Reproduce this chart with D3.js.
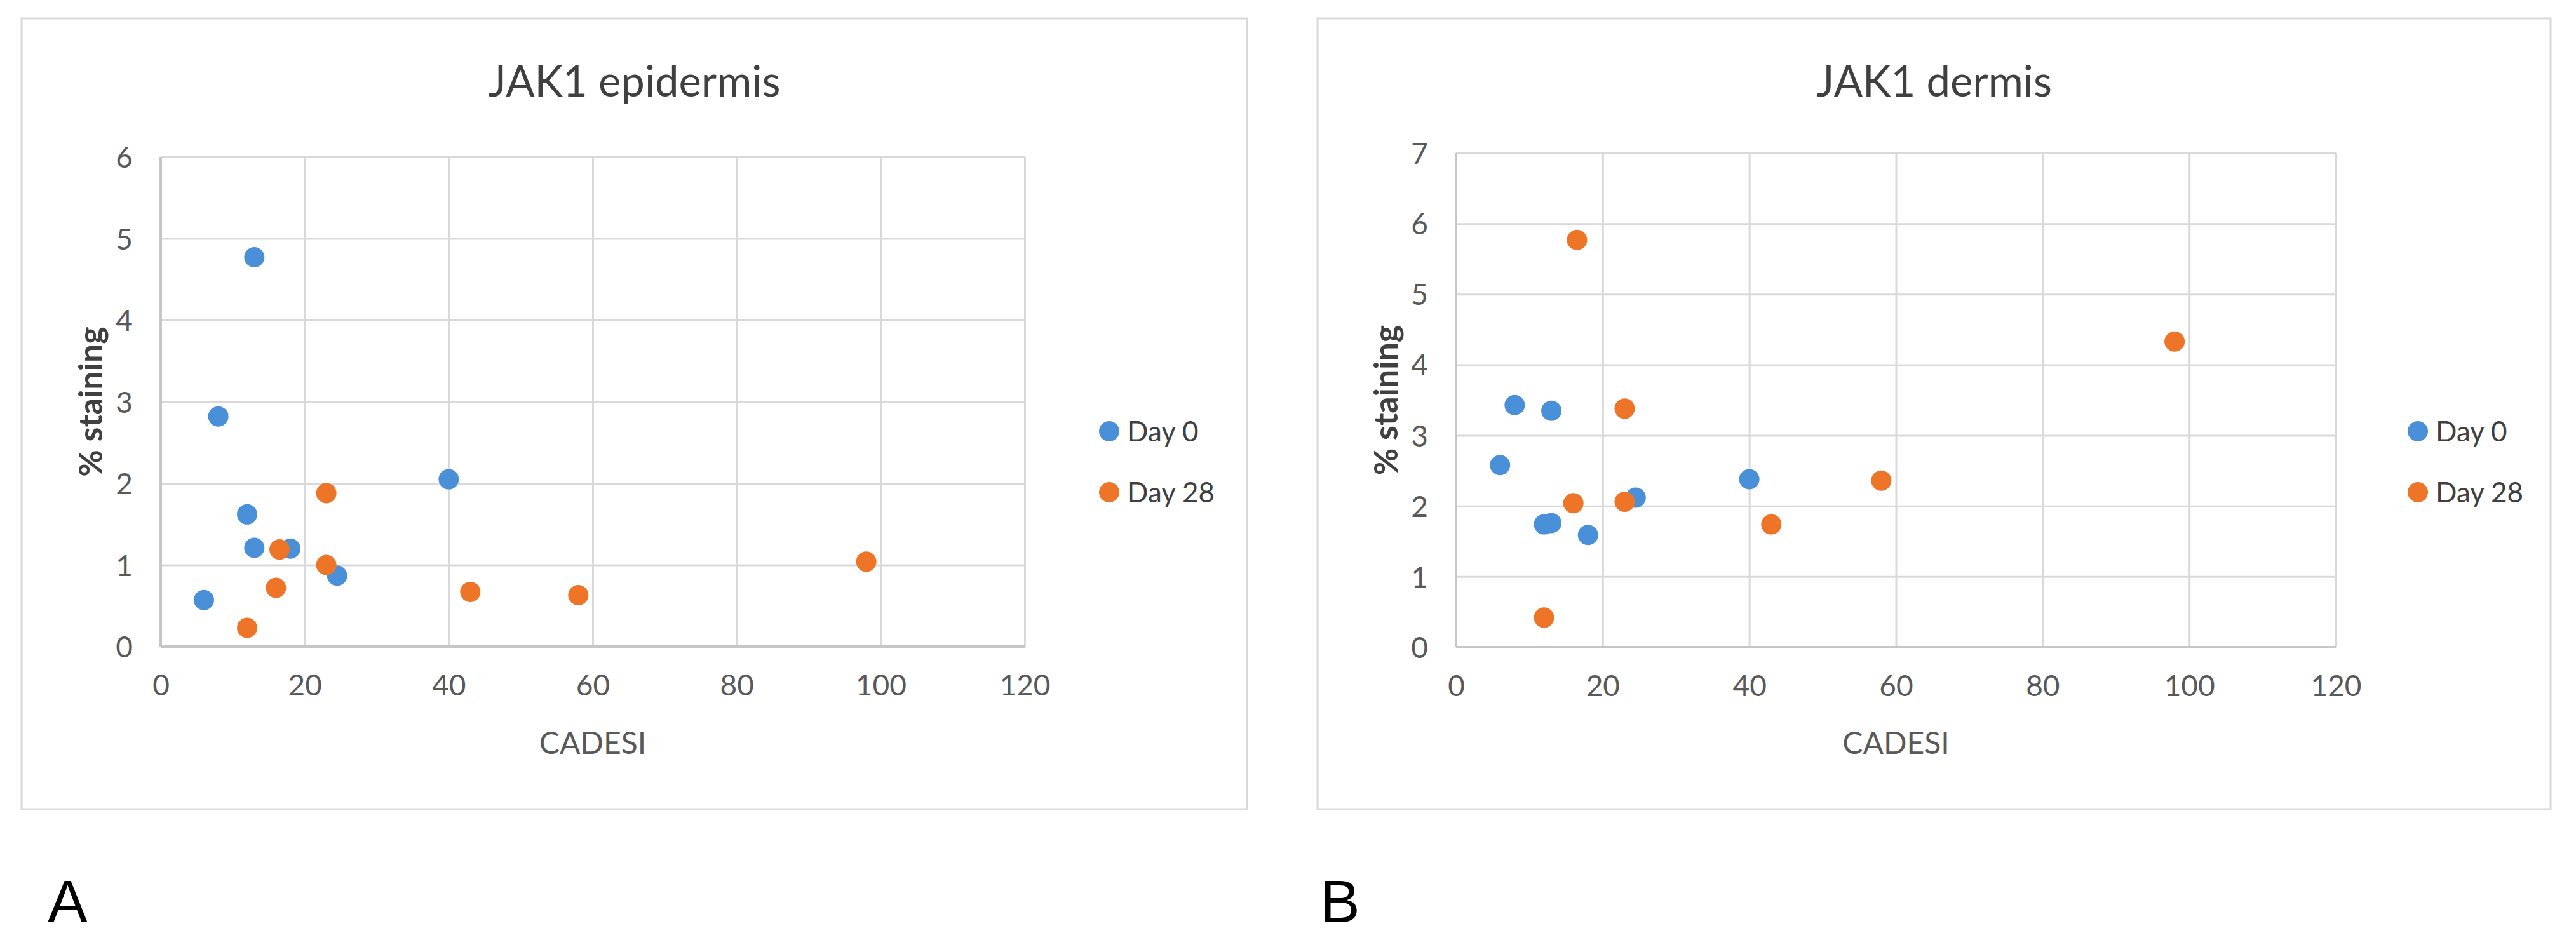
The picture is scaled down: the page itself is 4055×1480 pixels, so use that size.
<!DOCTYPE html>
<html>
<head>
<meta charset="utf-8">
<script src="https://cdn.jsdelivr.net/npm/d3@7/dist/d3.min.js"></script>
<style>
  html, body { margin: 0; padding: 0; background: #ffffff; }
  svg { display: block; }
  text { font-family: Lato, "Open Sans", "Liberation Sans", sans-serif; }
</style>
</head>
<body>
<svg id="chart" width="4055" height="1480"></svg>
<script>
// ---------------- data ----------------
const seriesNames = ["Day 0", "Day 28"];
const xTicks = [0, 20, 40, 60, 80, 100, 120];
const yTicksEpidermis = [0, 1, 2, 3, 4, 5, 6];
const yTicksDermis = [0, 1, 2, 3, 4, 5, 6, 7];

// CADESI scores
const cadesiDay0  = [13, 8, 40, 12, 13, 18, 24.5, 6];
const cadesiDay28 = [23, 16.5, 23, 16, 12, 43, 58, 98];

// % staining, JAK1 epidermis
const epidermisDay0  = [4.77, 2.82, 2.05, 1.62, 1.21, 1.20, 0.87, 0.57];
const epidermisDay28 = [1.88, 1.19, 1.00, 0.72, 0.23, 0.67, 0.63, 1.04];

// % staining, JAK1 dermis
const dermisDay0  = [1.76, 3.43, 2.38, 1.74, 3.35, 1.59, 2.12, 2.58];
const dermisDay28 = [3.38, 5.77, 2.06, 2.04, 0.42, 1.74, 2.36, 4.33];

const colors = ["#4a90d9", "#ee7428"];

// ---------------- layout ----------------
const svg = d3.select("#chart");

const panels = [
  { title: "JAK1 epidermis", label: "A",
    box: [34, 29, 1963, 1274],
    plot: { left: 253, right: 1613, top: 247, bottom: 1018 },
    yMax: 6, yTicks: yTicksEpidermis,
    ys: [epidermisDay0, epidermisDay28],
    legendX: 1746, labelX: 75 },
  { title: "JAK1 dermis", label: "B",
    box: [2074, 29, 4015, 1274],
    plot: { left: 2292, right: 3677, top: 241, bottom: 1019 },
    yMax: 7, yTicks: yTicksDermis,
    ys: [dermisDay0, dermisDay28],
    legendX: 3806, labelX: 2078 }
];

const xs = [cadesiDay0, cadesiDay28];

panels.forEach(p => {
  const g = svg.append("g");
  const [bx0, by0, bx1, by1] = p.box;

  // chart area border
  g.append("rect")
    .attr("x", bx0).attr("y", by0)
    .attr("width", bx1 - bx0).attr("height", by1 - by0)
    .attr("fill", "#ffffff").attr("stroke", "#d9d9d9").attr("stroke-width", 3);

  const x = d3.scaleLinear().domain([0, 120]).range([p.plot.left, p.plot.right]);
  const y = d3.scaleLinear().domain([0, p.yMax]).range([p.plot.bottom, p.plot.top]);
  const plotW = p.plot.right - p.plot.left;
  const plotH = p.plot.bottom - p.plot.top;

  // vertical gridlines + x tick labels
  const xAxis = g.append("g")
    .attr("transform", `translate(0,${p.plot.bottom})`)
    .call(d3.axisBottom(x).tickValues(xTicks).tickSize(-plotH).tickPadding(44).tickFormat(d3.format("d")));
  xAxis.select(".domain").remove();
  xAxis.selectAll(".tick line").attr("stroke", "#d9d9d9").attr("stroke-width", 3);
  xAxis.selectAll(".tick text")
    .attr("fill", "#595959").attr("font-size", 46)
    .style("font-family", "Lato, 'Open Sans', sans-serif");

  // horizontal gridlines + y tick labels
  const yAxis = g.append("g")
    .attr("transform", `translate(${p.plot.left},0)`)
    .call(d3.axisLeft(y).tickValues(p.yTicks).tickSize(-plotW).tickPadding(44).tickFormat(d3.format("d")));
  yAxis.select(".domain").remove();
  yAxis.selectAll(".tick line").attr("stroke", "#d9d9d9").attr("stroke-width", 3);
  yAxis.selectAll(".tick text")
    .attr("fill", "#595959").attr("font-size", 46)
    .attr("dy", "0.36em")
    .style("font-family", "Lato, 'Open Sans', sans-serif");

  // axis lines
  g.append("line")
    .attr("x1", p.plot.left).attr("x2", p.plot.right)
    .attr("y1", p.plot.bottom).attr("y2", p.plot.bottom)
    .attr("stroke", "#c6c6c6").attr("stroke-width", 4);
  g.append("line")
    .attr("x1", p.plot.left).attr("x2", p.plot.left)
    .attr("y1", p.plot.top).attr("y2", p.plot.bottom)
    .attr("stroke", "#c6c6c6").attr("stroke-width", 4);

  // points
  seriesNames.forEach((name, si) => {
    const pts = xs[si].map((cx, i) => ({ x: cx, y: p.ys[si][i] }));
    g.append("g").selectAll("circle").data(pts).join("circle")
      .attr("cx", d => x(d.x)).attr("cy", d => y(d.y)).attr("r", 16)
      .attr("fill", colors[si]);
  });

  // title
  g.append("text")
    .attr("x", (bx0 + bx1) / 2).attr("y", 152)
    .attr("text-anchor", "middle")
    .attr("font-size", 67).attr("fill", "#404040")
    .text(p.title);

  // x axis title
  g.append("text")
    .attr("x", (p.plot.left + p.plot.right) / 2).attr("y", 1170)
    .attr("dy", "0.36em")
    .attr("text-anchor", "middle")
    .attr("font-size", 48).attr("fill", "#595959")
    .text("CADESI");

  // y axis title
  const ly = (p.plot.top + p.plot.bottom) / 2;
  const lx = p.plot.left - 111;
  g.append("text")
    .attr("transform", `translate(${lx},${ly}) rotate(-90)`)
    .attr("text-anchor", "middle").attr("dy", "0.36em")
    .attr("font-size", 52).attr("font-weight", "bold").attr("fill", "#404040")
    .text("% staining");

  // legend
  const ley = [679, 775];
  seriesNames.forEach((name, si) => {
    g.append("circle")
      .attr("cx", p.legendX).attr("cy", ley[si]).attr("r", 16)
      .attr("fill", colors[si]);
    g.append("text")
      .attr("x", p.legendX + 28).attr("y", ley[si]).attr("dy", "0.36em")
      .attr("font-size", 44).attr("fill", "#404040")
      .text(name);
  });

  // panel label
  svg.append("text")
    .attr("x", p.labelX).attr("y", 1452)
    .attr("font-size", 94).attr("fill", "#000000")
    .style("font-family", "'Liberation Sans', Arial, sans-serif")
    .text(p.label);
});
</script>
</body>
</html>
